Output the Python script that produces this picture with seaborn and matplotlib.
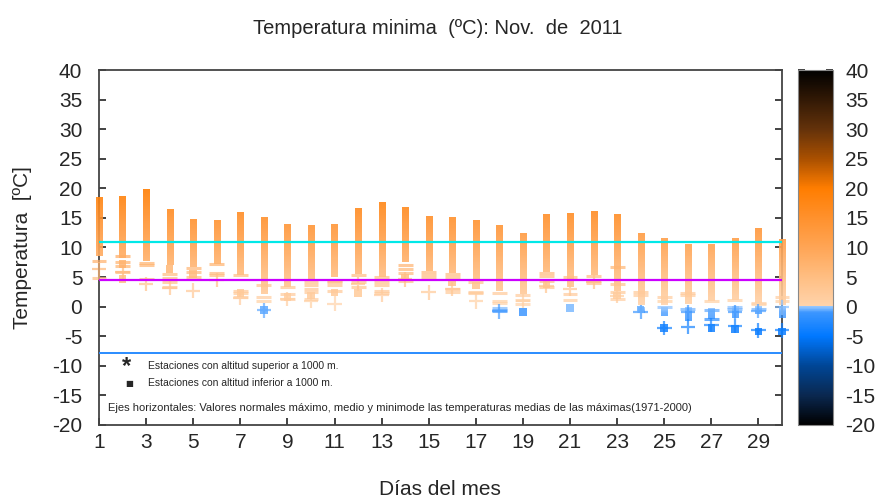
import numpy as np
import matplotlib
matplotlib.use("Agg")
import matplotlib.pyplot as plt
from matplotlib.colors import LinearSegmentedColormap, Normalize
import seaborn as sns

# Data
days = np.arange(1, 31)
bar_top = [18.4, 18.6, 19.8, 16.3, 14.7, 14.5, 15.9, 15.0, 13.8, 13.8,
           13.8, 16.5, 17.6, 16.7, 15.3, 15.0, 14.7, 13.8, 12.5, 15.5,
           15.7, 16.1, 15.7, 12.3, 11.5, 10.5, 10.5, 11.5, 13.3, 11.3]
bar_bot = [8.5, 8.2, 7.7, 7.0, 6.7, 7.2, 5.3, 2.1, 3.3, 4.4,
           5.0, 5.5, 5.0, 7.5, 6.1, 5.7, 4.4, 2.7, 2.2, 5.8,
           3.3, 5.3, 2.7, 0.2, 0.2, 0.5, 1.0, 1.1, 0.7, 0.3]

# lower (sub-zero) bar segments at the end of the month
seg_day = [24, 25, 26, 27, 28, 29, 30]
seg_top = [-0.1, -0.1, -0.1, -0.3, -0.1, -0.1, -0.1]
seg_bot = [-1.0, -1.5, -2.4, -2.1, -2.0, -1.3, -2.0]

dash_day = [1, 1, 2, 2, 2, 2, 3, 3, 3, 4, 4, 4, 4, 5, 5, 5, 6, 6, 6,
            7, 7, 7, 7, 8, 8, 8, 9, 9, 9, 10, 10, 10, 10, 10, 11, 11, 11, 11,
            12, 12, 12, 13, 13, 13, 13, 13, 14, 14, 14, 14, 15, 15, 15,
            16, 16, 16, 16, 17, 17, 17, 18, 18, 18, 18, 18, 18, 19, 19, 19,
            20, 20, 20, 20, 21, 21, 21, 22, 22, 22, 23, 23, 23, 23, 24, 24,
            25, 25, 25, 26, 26, 26, 27, 27, 27, 28, 28, 28, 29, 29, 29, 30, 30]
dash_val = [7.7, 4.9, 8.5, 7.5, 6.9, 5.8, 7.4, 7.0, 4.7, 5.5, 4.9, 4.1, 3.4,
            6.5, 5.8, 5.0, 7.2, 5.7, 5.3, 5.3, 2.7, 2.3, 1.6, 3.7, 1.6, 1.0,
            3.3, 2.2, 1.3, 4.1, 3.6, 3.0, 2.4, 1.3, 4.4, 4.1, 3.6, 2.7,
            5.3, 4.1, 3.3, 5.0, 4.1, 3.6, 2.7, 2.3, 7.1, 6.4, 5.7, 4.4,
            5.8, 5.4, 4.9, 5.5, 5.0, 3.0, 2.5, 4.1, 2.4, 2.3,
            2.3, 1.0, 0.6, -0.2, -0.5, -0.8, 2.0, 1.1, 0.5,
            5.7, 5.1, 4.4, 3.3, 5.0, 2.2, 1.1, 5.1, 4.4, 4.0,
            6.7, 3.8, 2.4, 1.3, 2.4, 1.9, 1.6, 1.0, -0.1, 2.3, 1.9, -0.4,
            1.0, -0.6, -2.1, 1.1, -0.1, -0.4, 0.7, 0.5, -0.4, 1.6, 1.0]

cross_day = [1, 2, 3, 4, 5, 6, 7, 8, 9, 10, 11, 12, 13, 14, 15, 16, 17, 18,
             19, 20, 21, 22, 23, 24, 25, 26, 26, 27, 28, 28, 29, 29, 30, 30]
cross_val = [6.3, 5.8, 3.8, 3.2, 2.7, 4.5, 1.5, -0.6, 1.3, 1.0, 0.5, 3.8,
             2.0, 4.6, 2.4, 3.0, 0.9, -0.8, 1.0, 3.5, 3.0, 4.2, 1.8, -0.9,
             -3.6, -0.9, -3.4, -3.1, -0.9, -3.3, -0.7, -4.0, -0.1, -4.0]

sq_day = [2, 2, 4, 5, 7, 8, 9, 10, 11, 12, 14, 16, 17, 19, 20, 21, 23,
          24, 25, 27, 28, 29, 30]
sq_val = [7.2, 4.7, 6.4, 5.5, 2.3, -0.6, 1.6, 1.9, 2.4, 2.3, 4.9, 4.1, 3.6,
          -0.9, 3.8, -0.2, 1.9, -0.5, -3.6, -3.6, -3.8, -4.2, -4.2]

# normal values (horizontal reference lines)
norm_max, norm_mean, norm_min = 11.0, 4.5, -7.8

# colour scale: blues below zero, oranges above
eps = 0.001
cpos = [(-20, (0, 0, 0)), (-15, (10, 40, 80)), (-10, (0, 70, 150)),
        (-5, (0, 120, 255)), (-1, (60, 150, 255)), (-eps, (150, 200, 255)),
        (eps, (255, 212, 172)), (5, (255, 190, 130)), (10, (255, 165, 85)),
        (15, (255, 145, 45)), (20, (255, 125, 0)), (25, (170, 80, 0)),
        (30, (100, 50, 10)), (35, (50, 25, 5)), (40, (0, 0, 0))]
vmin, vmax = -20, 40
cmap = LinearSegmentedColormap.from_list(
    "tmin", [((v - vmin) / (vmax - vmin), tuple(c / 255 for c in col)) for v, col in cpos], N=512)
norm = Normalize(vmin, vmax)

sns.set_style("ticks")
plt.rcParams["font.family"] = ["Liberation Sans", "DejaVu Sans"]
plt.rcParams["axes.unicode_minus"] = False

fig = plt.figure(figsize=(8.77, 5), dpi=100)
ax = fig.add_axes([99 / 877, 1 - 425 / 500, 683 / 877, 355 / 500])
cax = fig.add_axes([798 / 877, 1 - 425 / 500, 35 / 877, 355 / 500])

hw = 0.13
# bars, coloured with the scale along their height
for d, t, b in zip(days, bar_top, bar_bot):
    grad = np.linspace(b, t, 80).reshape(-1, 1)
    ax.imshow(grad, extent=(d - hw, d + hw, b, t), origin="lower", cmap=cmap,
              norm=norm, aspect="auto", alpha=0.9, clip_on=False, zorder=3)
for d, t, b in zip(seg_day, seg_top, seg_bot):
    grad = np.linspace(b, t, 40).reshape(-1, 1)
    ax.imshow(grad, extent=(d - hw, d + hw, b, t), origin="lower", cmap=cmap,
              norm=norm, aspect="auto", alpha=0.75, clip_on=False, zorder=3)

# station markers
ax.scatter(dash_day, dash_val, marker="_", s=115, linewidths=2.2,
           color=cmap(norm(dash_val)), alpha=0.7, clip_on=False, zorder=4)
ax.scatter(cross_day, cross_val, marker="+", s=110, linewidths=1.6,
           color=cmap(norm(cross_val)), alpha=0.7, clip_on=False, zorder=4)
sns.scatterplot(x=sq_day, y=sq_val, hue=sq_val, palette=cmap, hue_norm=(vmin, vmax),
                marker="s", s=30, linewidth=0, alpha=0.85, legend=False, ax=ax,
                clip_on=False, zorder=5)

ax.axhline(norm_max, color="#00e8e8", lw=1.6, zorder=6)
ax.axhline(norm_mean, color="#cc00ff", lw=1.6, zorder=6)
ax.axhline(norm_min, color="#2a8cff", lw=1.4, zorder=6)

ax.set_xlim(1, 30)
ax.set_ylim(-20, 40)
ax.set_xticks(np.arange(1, 30, 2))
ax.set_yticks(np.arange(-20, 41, 5))
ax.tick_params(direction="in", length=5, width=1.2, labelsize=15, pad=12,
               right=True, color="#222222")
ax.tick_params(axis="x", pad=6)
for s in ax.spines.values():
    s.set_color("#444444")
    s.set_linewidth(1.3)
ax.set_xlabel("")
ax.set_ylabel("")

ax.text(0.040, 0.166, "*", transform=ax.transAxes, fontsize=17, fontweight="bold",
        ha="center", va="center")
ax.text(0.072, 0.165, "Estaciones con altitud superior a 1000 m.", transform=ax.transAxes,
        fontsize=7.5, va="center")
ax.text(0.044, 0.116, "\u25a0", transform=ax.transAxes, fontsize=6, ha="center",
        va="center", family=["DejaVu Sans"])
ax.text(0.072, 0.118, "Estaciones con altitud inferior a 1000 m.", transform=ax.transAxes,
        fontsize=7.5, va="center")
ax.text(0.013, 0.048, "Ejes horizontales: Valores normales máximo, medio y minimode las "
        "temperaturas medias de las máximas(1971-2000)", transform=ax.transAxes,
        fontsize=8, va="center")

# colour bar
sm = plt.cm.ScalarMappable(cmap=cmap, norm=norm)
cb = fig.colorbar(sm, cax=cax, ticks=np.arange(-20, 41, 5))
cb.outline.set_edgecolor("#888888")
cax.tick_params(direction="in", length=5, width=1.2, labelsize=15, pad=9,
                left=True, color="#222222")

fig.text(0.499, 0.944, "Temperatura minima  (ºC): Nov.  de  2011", ha="center",
         va="center", fontsize=14.5)
fig.text(0.026, 0.505, "Temperatura  [ºC]", rotation=90, ha="center", va="center",
         fontsize=15)
fig.text(0.502, 0.021, "Días del mes", ha="center", va="center", fontsize=15)

fig.savefig("out.png", dpi=100)
